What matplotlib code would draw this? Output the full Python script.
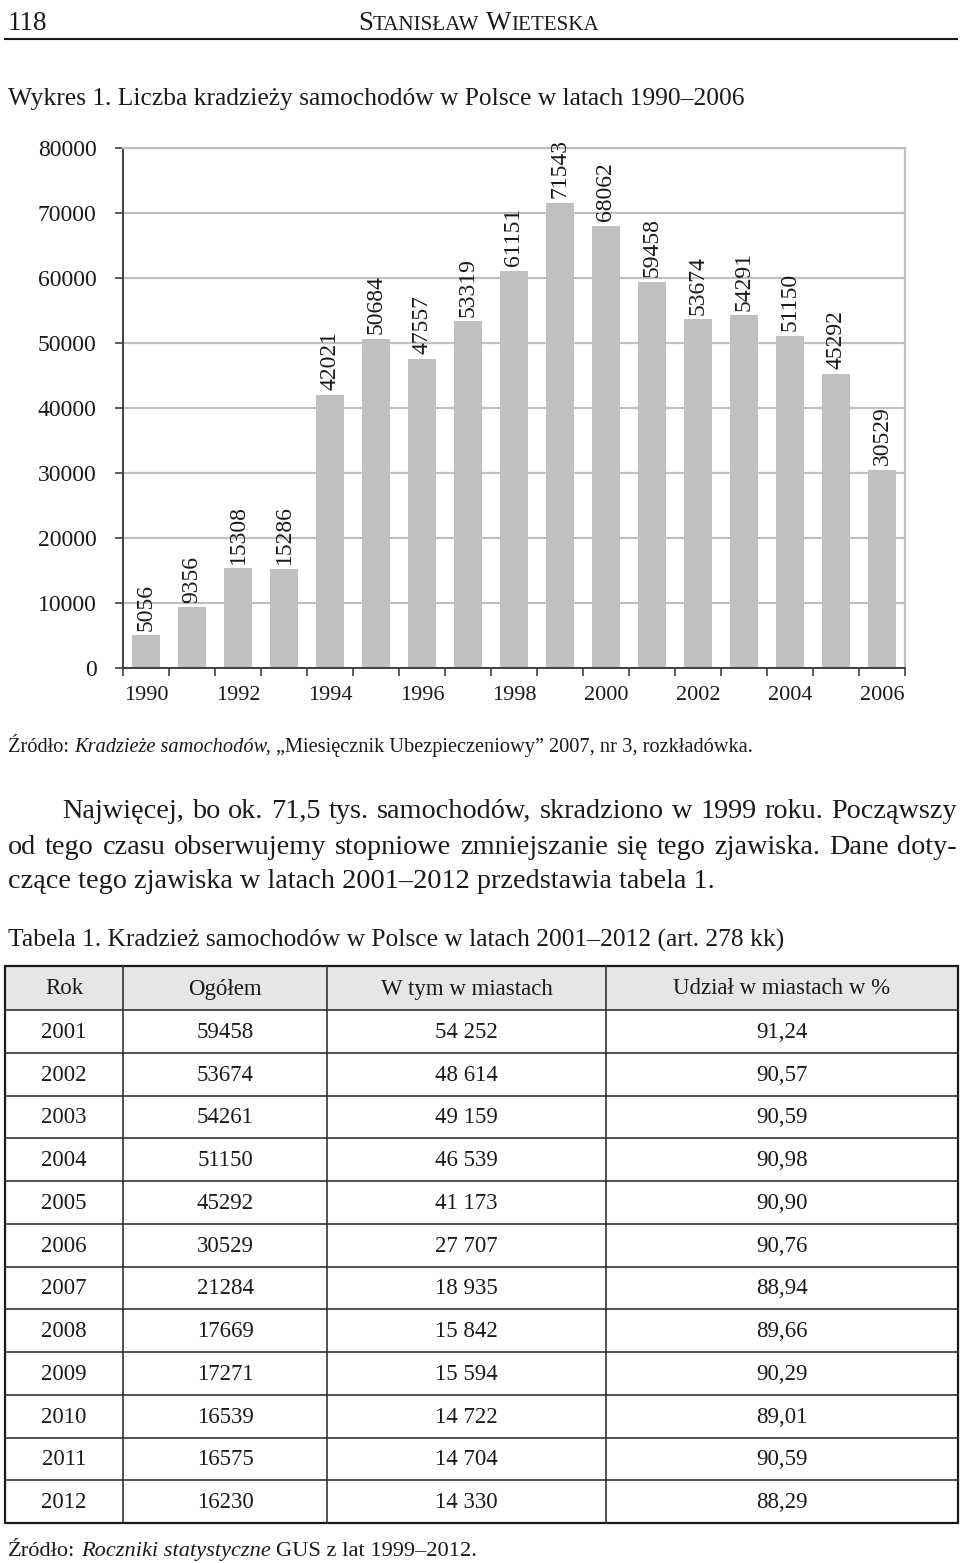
import matplotlib.pyplot as plt
from matplotlib.patches import Rectangle

# data
years = list(range(1990, 2007))
thefts = [5056, 9356, 15308, 15286, 42021, 50684, 47557, 53319, 61151,
          71543, 68062, 59458, 53674, 54291, 51150, 45292, 30529]

tab_head = ['Rok', 'Ogółem', 'W tym w miastach', 'Udział w miastach w %']
tab_year = ['2001', '2002', '2003', '2004', '2005', '2006',
            '2007', '2008', '2009', '2010', '2011', '2012']
tab_total = ['59458', '53674', '54261', '51150', '45292', '30529',
             '21284', '17669', '17271', '16539', '16575', '16230']
tab_city = ['54 252', '48 614', '49 159', '46 539', '41 173', '27 707',
            '18 935', '15 842', '15 594', '14 722', '14 704', '14 330']
tab_share = ['91,24', '90,57', '90,59', '90,98', '90,90', '90,76',
             '88,94', '89,66', '90,29', '89,01', '90,59', '88,29']

plt.rcParams['font.family'] = 'Liberation Serif'
W, H = 960, 1563
fig = plt.figure(figsize=(W / 100, H / 100), dpi=100)

# page overlay in pixel coordinates
page = fig.add_axes([0, 0, 1, 1])
page.set_xlim(0, W)
page.set_ylim(H, 0)
page.axis('off')
r = fig.canvas.get_renderer()
TXT = '#1a1a1a'


def width(s, size, style='normal'):
    t = page.text(0, 0, s, fontsize=size, style=style)
    w = t.get_window_extent(r).width
    t.remove()
    return w


def fit_size(pieces, target, size=10):
    gap = width('a a', size) - width('aa', size)
    tot = sum(width(s, size, st) for s, st in pieces) + gap * (len(pieces) - 1)
    return size * target / tot


def run(x, y, pieces, size, gap=None):
    if gap is None:
        gap = width('a a', size) - width('aa', size)
    for s, st in pieces:
        page.text(x, y, s, fontsize=size, style=st, va='baseline', color=TXT)
        x += width(s, size, st) + gap
    return x


def justify(x0, x1, y, words, size):
    ws = [width(w, size) for w in words]
    gap = (x1 - x0 - sum(ws)) / (len(words) - 1)
    x = x0
    for w, wd in zip(words, ws):
        page.text(x, y, w, fontsize=size, va='baseline', color=TXT)
        x += wd + gap


def small_caps(x, y, words, size, ratio=0.78, draw=True):
    gap = width('a a', size) - width('aa', size)
    x0 = x
    for k, word in enumerate(words):
        if draw:
            page.text(x, y, word[0], fontsize=size, va='baseline', color=TXT)
        x += width(word[0], size)
        if draw:
            page.text(x, y, word[1:], fontsize=size * ratio, va='baseline', color=TXT)
        x += width(word[1:], size * ratio)
        if k < len(words) - 1:
            x += gap
    return x - x0


# header
page.text(8, 30, '118', fontsize=19.5, va='baseline', color=TXT)
author = ['STANISŁAW', 'WIETESKA']
hs = 18 * 242 / small_caps(0, 0, author, 18, draw=False)
small_caps(358, 30, author, hs)
page.plot([5, 957], [39, 39], color=TXT, lw=1.5)

# title
title = 'Wykres 1. Liczba kradzieży samochodów w Polsce w latach 1990–2006'
ts = fit_size([(title, 'normal')], 737)
page.text(8, 105, title, fontsize=ts, va='baseline', color=TXT)

# bar chart
ax = fig.add_axes([123 / W, 1 - 668 / H, 782 / W, 520 / H])
xs = list(range(len(years)))
ax.bar(xs, thefts, width=0.63, color='#c0c0c0', zorder=2)
for i, v in zip(xs, thefts):
    ax.text(i, v + 700, str(v), rotation=90, ha='center', va='bottom',
            fontsize=17, color=TXT)
ax.set_xlim(-0.5, len(years) - 0.5)
ax.set_ylim(0, 80000)
ax.set_yticks(range(0, 80001, 10000))
ax.set_yticklabels([str(v) for v in range(0, 80001, 10000)], fontsize=17, color=TXT)
ax.set_xticks(xs[::2])
ax.set_xticklabels([str(y) for y in years[::2]], fontsize=16, color=TXT)
ax.set_xticks([i - 0.5 for i in range(len(years) + 1)], minor=True)
ax.tick_params(axis='x', which='major', length=0, pad=13)
ax.tick_params(axis='x', which='minor', length=6, width=1.2, color='#404040')
ax.tick_params(axis='y', length=6, width=1.2, color='#404040', pad=13)
ax.grid(axis='y', color='#c0c0c0', lw=1.6, zorder=0)
ax.set_axisbelow(True)
for s in ['top', 'right']:
    ax.spines[s].set_color('#c0c0c0')
    ax.spines[s].set_linewidth(1.6)
for s in ['left', 'bottom']:
    ax.spines[s].set_color('#404040')
    ax.spines[s].set_linewidth(1.4)

# source under chart
src = [('Źródło:', 'normal'), ('Kradzieże samochodów,', 'italic'),
       ('„Miesięcznik Ubezpieczeniowy”', 'normal'), ('2007, nr 3, rozkładówka.', 'normal')]
ss = fit_size(src, 745)
run(8, 752, src, ss)

# paragraph
ps = fit_size([('od tego czasu obserwujemy stopniowe zmniejszanie się tego zjawiska. Dane doty-', 'normal')], 930)
justify(62, 957, 818, 'Najwięcej, bo ok. 71,5 tys. samochodów, skradziono w 1999 roku. Począwszy'.split(), ps)
justify(8, 957, 854, 'od tego czasu obserwujemy stopniowe zmniejszanie się tego zjawiska. Dane doty-'.split(), ps)
page.text(8, 888, 'czące tego zjawiska w latach 2001–2012 przedstawia tabela 1.',
          fontsize=ps, va='baseline', color=TXT)

# table caption
cap = 'Tabela 1. Kradzież samochodów w Polsce w latach 2001–2012 (art. 278 kk)'
cs = fit_size([(cap, 'normal')], 777)
page.text(8, 947, cap, fontsize=cs, va='baseline', color=TXT)

# table
cols = [5, 123, 327, 606, 958]
top, head_h, row_h = 966, 44, 42.75
bottom = top + head_h + row_h * len(tab_year)
page.add_patch(Rectangle((cols[0], top), cols[-1] - cols[0], head_h,
                         facecolor='#e6e6e6', edgecolor='none'))
tsz = fit_size([('Udział w miastach w %', 'normal')], 218)
centers = [(cols[j] + cols[j + 1]) / 2 for j in range(4)]
for j, h in enumerate(tab_head):
    page.text(centers[j], top + head_h / 2 + 1, h, fontsize=tsz, ha='center',
              va='center', color=TXT)
rows = list(zip(tab_year, tab_total, tab_city, tab_share))
for i, row in enumerate(rows):
    yc = top + head_h + row_h * (i + 0.5) + 1
    for j, cell in enumerate(row):
        page.text(centers[j], yc, cell, fontsize=tsz, ha='center', va='center', color=TXT)
for i in range(len(rows)):
    yl = top + head_h + row_h * i
    page.plot([cols[0], cols[-1]], [yl, yl], color='#333333', lw=1.2)
for c in cols[1:-1]:
    page.plot([c, c], [top, bottom], color='#333333', lw=1.2)
page.add_patch(Rectangle((cols[0], top), cols[-1] - cols[0], bottom - top,
                         facecolor='none', edgecolor=TXT, lw=1.6))

# final source
src2 = [('Źródło:', 'normal'), ('Roczniki statystyczne', 'italic'),
        ('GUS z lat 1999–2012.', 'normal')]
run(8, 1556, src2, fit_size(src2, 470))

fig.savefig('out.png', dpi=100)
